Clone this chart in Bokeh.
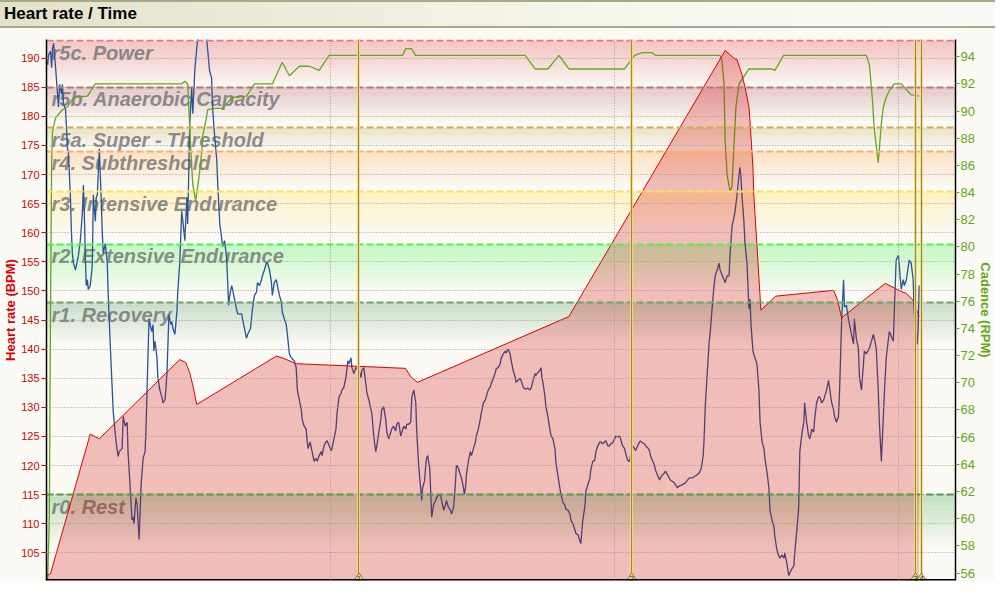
from bokeh.plotting import figure
from bokeh.models import Range1d, LinearAxis, SingleIntervalTicker, Div
from bokeh.layouts import column
from bokeh.embed import file_html
from bokeh.resources import INLINE
from bokeh.core.properties import value

# ---------------- data ----------------
zone_names = ["r0. Rest", "r1. Recovery", "r2. Extensive Endurance", "r3. Intensive Endurance",
              "r4. Subthreshold", "r5a. Super - Threshold", "r5b. Anaerobic Capacity", "r5c. Power"]
zone_low = [100, 115, 148, 158, 167, 174, 178, 185]
zone_high = [115, 148, 158, 167, 174, 178, 185, 193]

# heart rate (BPM) vs time (min)
hr_t = [0.0, 0.14, 1.54, 1.86, 4.69, 4.90, 5.04, 5.15, 5.29, 8.09, 8.30, 8.79, 12.64, 12.82, 13.06,
        18.39, 23.89, 24.20, 24.31, 24.48, 24.59, 24.73, 24.80, 24.87, 24.90, 25.15, 25.67, 27.71,
        27.85, 27.99, 29.53, 30.09, 30.26, 30.51, 30.72]
hr_v = [101.1, 101.4, 125.4, 124.6, 138.2, 137.7, 136.0, 133.8, 130.5, 138.8, 138.5, 137.5, 136.7,
        135.3, 134.3, 145.6, 191.3, 190.0, 189.7, 187.2, 185.0, 181.6, 176.6, 171.1, 166.5, 146.7,
        149.1, 150.1, 148.4, 145.4, 151.3, 149.9, 149.6, 148.4, 145.6]

# cadence (RPM) vs time (min)
cad_t = [0.04, 0.10, 0.14, 0.18, 0.21, 0.32, 0.56, 0.74, 0.95, 1.44, 1.72, 4.76, 4.87, 4.97, 5.04,
         5.11, 5.15, 5.25, 5.32, 5.39, 5.46, 5.50, 5.57, 5.64, 5.67, 5.92, 6.20, 6.34, 6.52, 7.04,
         7.32, 7.95, 8.30, 8.55, 8.90, 9.25, 9.60, 9.95, 12.54, 12.65, 12.85, 12.99, 16.85, 17.20,
         17.65, 18.04, 18.39, 20.35, 20.70, 20.98, 21.33, 21.44, 23.71, 23.78, 23.85, 23.89, 23.96,
         24.06, 24.13, 24.20, 24.27, 24.38, 24.73, 25.53, 25.64, 25.95, 28.86, 28.97, 29.07, 29.14,
         29.25, 29.28, 29.32, 29.39, 29.46, 29.56, 29.67, 29.84, 30.09, 30.20, 30.44, 30.72]
cad_v = [55.5, 60.0, 75.0, 86.0, 88.5, 89.5, 90.1, 90.3, 91.0, 91.1, 92.0, 92.0, 92.2, 92.0, 88.9,
         86.0, 84.6, 83.4, 84.4, 85.5, 86.9, 88.2, 88.9, 89.6, 90.1, 90.2, 90.2, 90.5, 91.0, 91.1,
         92.0, 92.0, 93.6, 92.6, 93.3, 93.3, 93.0, 94.1, 94.1, 94.6, 94.6, 94.1, 94.1, 93.1,
         93.1, 94.1, 93.1, 93.1, 94.1, 94.3, 94.3, 94.1, 94.1, 93.7, 92.0, 87.9, 85.3,
         84.1, 84.4, 87.4, 90.3, 92.0, 93.1, 93.1, 93.0, 94.1, 94.1, 93.4, 91.0, 88.7,
         86.7, 86.2, 87.2, 89.1, 90.3, 91.0, 91.5, 92.0, 92.0, 91.75, 91.2, 91.1]

# speed (km/h) vs time (min)
spd_t = [0.04, 0.07, 0.14, 0.18, 0.21, 0.25, 0.32, 0.39, 0.42, 0.46, 0.53, 0.56, 0.60, 0.67, 0.74,
         0.77, 0.84, 0.88, 0.91, 0.95, 1.02, 1.09, 1.12, 1.19, 1.26, 1.30, 1.33, 1.37, 1.40, 1.44,
         1.47, 1.54, 1.61, 1.65, 1.68, 1.72, 1.75, 1.79, 1.86, 1.89, 1.93, 1.96, 2.00, 2.07, 2.14,
         2.17, 2.24, 2.28, 2.35, 2.45, 2.52, 2.56, 2.66, 2.70, 2.77, 2.84, 2.87, 2.94, 3.01, 3.05,
         3.08, 3.15, 3.19, 3.26, 3.33, 3.40, 3.47, 3.50, 3.54, 3.57, 3.61, 3.68, 3.71, 3.75, 3.78,
         3.82, 3.89, 3.92, 3.99, 4.06, 4.10, 4.17, 4.20, 4.24, 4.31, 4.38, 4.41, 4.45, 4.52, 4.59,
         4.62, 4.69, 4.76, 4.80, 4.87, 4.94, 4.97, 5.04, 5.11, 5.15, 5.22, 5.29, 5.32, 5.39, 5.57,
         5.64, 5.67, 5.74, 5.81, 5.85, 5.92, 5.99, 6.03, 6.10, 6.16, 6.20, 6.27, 6.34, 6.38, 6.41,
         6.45, 6.52, 6.55, 6.62, 6.69, 6.73, 6.87, 6.90, 7.04, 7.08, 7.18, 7.25, 7.32, 7.39, 7.43,
         7.50, 7.57, 7.60, 7.67, 7.74, 7.78, 7.85, 7.92, 7.95, 8.02, 8.09, 8.13, 8.20, 8.27, 8.30,
         8.37, 8.44, 8.48, 8.55, 8.62, 8.72, 8.79, 8.83, 8.90, 8.97, 9.00, 9.07, 9.14, 9.18, 9.21,
         9.28, 9.35, 9.42, 9.49, 9.53, 9.60, 9.67, 9.70, 9.77, 9.84, 9.88, 9.95, 10.02, 10.05, 10.12,
         10.19, 10.23, 10.30, 10.37, 10.40, 10.47, 10.54, 10.58, 10.61, 10.65, 10.72, 10.75, 10.82,
         10.89, 10.93, 11.00, 11.07, 11.10, 11.17, 11.24, 11.28, 11.35, 11.42, 11.45, 11.52, 11.59,
         11.63, 11.70, 11.77, 11.80, 11.87, 11.94, 11.98, 12.05, 12.12, 12.15, 12.22, 12.29, 12.33,
         12.40, 12.47, 12.51, 12.58, 12.65, 12.68, 12.75, 12.82, 12.86, 12.93, 13.00, 13.03, 13.10,
         13.17, 13.21, 13.24, 13.31, 13.35, 13.38, 13.42, 13.49, 13.52, 13.56, 13.63, 13.70, 13.73,
         13.80, 13.87, 13.91, 13.98, 14.05, 14.08, 14.15, 14.22, 14.26, 14.33, 14.36, 14.40, 14.43,
         14.50, 14.57, 14.61, 14.68, 14.71, 14.75, 14.78, 14.85, 14.92, 14.96, 15.03, 15.10, 15.13,
         15.20, 15.27, 15.31, 15.38, 15.45, 15.48, 15.55, 15.62, 15.66, 15.73, 15.80, 15.83, 15.90,
         15.97, 16.01, 16.08, 16.15, 16.18, 16.25, 16.32, 16.36, 16.43, 16.50, 16.53, 16.60, 16.67,
         16.71, 16.78, 16.85, 16.95, 17.02, 17.06, 17.13, 17.20, 17.23, 17.30, 17.37, 17.41, 17.44,
         17.48, 17.55, 17.58, 17.65, 17.72, 17.76, 17.83, 17.90, 17.93, 18.00, 18.07, 18.11, 18.18,
         18.25, 18.29, 18.36, 18.43, 18.46, 18.53, 18.60, 18.64, 18.71, 18.78, 18.81, 18.85, 18.88,
         18.95, 18.99, 19.06, 19.13, 19.16, 19.23, 19.30, 19.34, 19.41, 19.48, 19.51, 19.58, 19.65,
         19.69, 19.76, 19.83, 19.86, 19.93, 20.00, 20.04, 20.11, 20.18, 20.21, 20.28, 20.35, 20.39,
         20.46, 20.53, 20.56, 20.63, 20.70, 20.74, 20.81, 20.88, 20.91, 20.98, 21.05, 21.09, 21.16,
         21.23, 21.26, 21.33, 21.40, 21.44, 21.51, 21.58, 21.61, 21.68, 21.75, 21.79, 21.96, 22.10,
         22.21, 22.28, 22.38, 22.49, 22.63, 22.73, 22.84, 22.98, 23.05, 23.12, 23.15, 23.19, 23.26,
         23.33, 23.36, 23.43, 23.50, 23.54, 23.61, 23.68, 23.71, 23.78, 23.85, 23.89, 23.96, 24.03,
         24.06, 24.13, 24.20, 24.24, 24.31, 24.38, 24.41, 24.45, 24.48, 24.55, 24.59, 24.66, 24.70,
         24.73, 24.77, 24.80, 24.87, 24.94, 25.01, 25.08, 25.12, 25.19, 25.26, 25.29, 25.36, 25.43,
         25.47, 25.54, 25.61, 25.64, 25.71, 25.78, 25.82, 25.89, 25.96, 25.99, 26.06, 26.13, 26.17,
         26.24, 26.31, 26.34, 26.41, 26.48, 26.52, 26.59, 26.66, 26.69, 26.76, 26.83, 26.87, 26.94,
         27.01, 27.04, 27.11, 27.18, 27.22, 27.29, 27.36, 27.39, 27.46, 27.53, 27.64, 27.71, 27.74,
         27.81, 27.88, 27.92, 27.99, 28.06, 28.09, 28.16, 28.23, 28.27, 28.41, 28.44, 28.51, 28.58,
         28.62, 28.69, 28.76, 28.79, 28.86, 28.97, 29.11, 29.14, 29.21, 29.28, 29.32, 29.39, 29.46,
         29.49, 29.56, 29.67, 29.81, 29.91, 29.99, 30.09, 30.16, 30.20, 30.27, 30.37, 30.44, 30.51,
         30.54, 30.61, 30.65, 30.68, 30.72]
spd_v = [52.8, 53.8, 54.2, 52.5, 54.5, 55.0, 52.5, 49.8, 48.5, 50.8, 49.8, 50.8, 48.8, 48.2, 44.2,
         43.8, 39.5, 35.5, 33.5, 32.5, 31.8, 32.8, 33.2, 34.8, 37.5, 40.5, 37.8, 32.8, 30.2, 30.8,
         29.8, 30.2, 32.2, 39.5, 38.2, 36.8, 39.2, 39.5, 44.2, 41.8, 38.8, 35.8, 33.5, 34.5, 32.5,
         29.5, 24.5, 21.8, 17.2, 14.2, 12.7, 13.2, 13.5, 16.8, 15.8, 16.2, 13.2, 9.8, 6.2, 6.5,
         5.8, 8.5, 7.8, 4.2, 9.8, 12.5, 13.2, 15.2, 19.5, 22.8, 26.8, 25.8, 25.5, 26.2, 23.5,
         24.5, 22.8, 20.8, 19.5, 18.8, 18.2, 18.5, 19.5, 21.2, 27.2, 26.2, 26.5, 25.8, 25.2, 27.5,
         29.5, 32.5, 37.8, 36.8, 34.8, 39.2, 36.5, 46.5, 50.5, 47.8, 52.2, 54.5, 55.4, 57.0, 57.0,
         55.4, 54.5, 52.2, 51.5, 48.2, 45.5, 43.2, 40.5, 36.5, 35.2, 34.2, 34.8, 33.0, 30.5, 28.2,
         29.2, 30.2, 29.8, 28.8, 27.8, 27.3, 27.3, 26.8, 24.8, 25.2, 25.8, 27.8, 29.2, 29.5, 30.5,
         30.2, 30.8, 31.2, 31.8, 32.5, 32.5, 31.8, 30.5, 29.2, 30.5, 30.8, 30.2, 29.2, 28.5, 27.5,
         26.8, 26.2, 25.2, 23.2, 22.8, 22.5, 21.8, 19.5, 18.5, 17.5, 16.5, 15.8, 15.5, 14.2, 13.5,
         14.2, 13.2, 12.2, 12.5, 12.2, 12.8, 13.2, 12.8, 13.8, 14.2, 14.3, 13.8, 13.3, 13.5, 14.5,
         15.5, 17.2, 18.8, 19.2, 19.5, 19.8, 20.8, 21.8, 22.5, 22.2, 22.8, 21.8, 21.2,
         21.8, 21.7, 21.5, 20.8, 21.5, 21.8, 20.2, 19.2, 18.5, 17.5, 17.2, 14.8, 13.2,
         13.8, 15.2, 16.5, 17.5, 17.8, 16.5, 15.2, 14.5, 15.2, 15.5, 15.8, 15.3, 16.0,
         16.2, 14.8, 15.2, 15.8, 15.5, 16.0, 16.0, 16.2, 18.8, 19.5, 18.2, 15.5, 11.8,
         9.5, 8.2, 9.5, 10.2, 11.8, 12.5, 12.8, 11.5, 9.5, 6.5, 7.8, 8.2, 8.5,
         8.7, 8.8, 8.2, 7.2, 7.8, 8.2, 7.5, 7.2, 6.8, 7.5, 8.5, 10.2, 11.8,
         11.5, 10.8, 10.5, 9.5, 8.8, 9.5, 10.8, 12.2, 13.2, 12.8, 13.5, 14.2, 14.8,
         15.5, 16.5, 17.2, 18.2, 18.5, 18.8, 19.5, 19.8, 20.2, 20.7, 21.3, 21.7, 21.8,
         22.2, 22.8, 23.2, 23.5, 23.3, 23.7, 23.2, 22.5, 21.5, 20.8, 20.3, 20.5, 20.7,
         20.5, 19.8, 19.6, 19.7, 19.5, 19.7, 20.5, 21.2, 21.0, 21.3, 21.5, 21.8, 20.8,
         20.2, 18.8, 17.8, 16.8, 15.5, 14.8, 14.5, 13.5, 12.2, 10.8, 9.5, 8.8, 8.0,
         7.7, 7.3, 7.2, 6.8, 6.2, 5.8, 5.2, 4.8, 4.7, 4.0, 3.8, 5.2, 6.2,
         7.5, 9.2, 9.8, 10.5, 11.3, 12.2, 12.3, 13.2, 13.8, 14.2, 14.2, 14.0, 14.2,
         14.3, 13.8, 13.8, 14.0, 14.1, 14.5, 14.8, 14.7, 14.8, 14.5, 13.8, 13.5, 13.0,
         12.3, 12.2, 12.7, 13.8, 13.5, 13.3, 13.8, 14.2, 14.3, 14.1, 14.0, 13.8, 13.6,
         13.3, 12.8, 12.3, 11.8, 11.3, 10.8, 10.3, 10.5, 10.8, 11.0, 11.2, 10.3, 10.0,
         9.5, 9.7, 9.8, 10.0, 10.5, 10.5, 10.7, 11.0, 11.5, 12.8, 14.5, 17.8, 21.2,
         24.5, 25.2, 27.8, 30.2, 31.2, 31.8, 32.5, 31.8, 31.3, 30.8, 30.5, 31.2, 31.2,
         33.2, 36.2, 37.2, 37.8, 39.5, 41.5, 42.3, 41.2, 39.5, 36.8, 34.5, 32.5, 29.8,
         27.8, 28.8, 26.2, 23.5, 22.8, 22.2, 19.5, 16.2, 14.2, 13.5, 12.5, 11.2, 9.5,
         7.2, 6.2, 5.5, 4.5, 3.2, 2.5, 2.3, 2.6, 2.3, 2.8, 1.8, 0.5, 0.8,
         1.2, 1.5, 2.8, 5.0, 7.5, 13.2, 15.0, 16.2, 18.2, 16.2, 14.8, 14.5, 15.5,
         15.2, 16.5, 18.2, 18.8, 18.8, 18.2, 18.5, 18.8, 19.5, 20.5, 18.2, 17.5, 16.8,
         16.2, 16.8, 19.5, 26.5, 30.8, 28.0, 28.2, 26.8, 26.2, 24.2, 26.8, 24.8, 23.8,
         20.8, 19.5, 22.2, 23.5, 23.2, 23.8, 25.2, 24.8, 23.8, 19.5, 16.2, 12.2, 16.8,
         18.8, 22.8, 25.5, 24.5, 32.8, 33.3, 29.8, 30.8, 30.2, 30.8, 32.8, 32.5, 30.8,
         27.8, 24.8, 24.2, 25.5, 30.2]

lap_times = [11.0, 20.6, 30.59, 30.80]
lap_labels = ["1", "2", "3", "4"]

# ---------------- styling tables ----------------
band_colors = ["#BEDEBE", "#C4DAC4", "#BEF8BE", "#FEF0BE", "#FCDEBE", "#E8DEC0", "#E2C4C4", "#F2BDBD"]
band_fade = [9, 7, 8, 7, 6, 3.5, 6, 8]
line_colors = ["#4A9A40", "#68A868", "#55EE55", "#FFE050", "#FFB060", "#D4AA50", "#C07070", "#E08080"]

BG = "#FBFAF4"
HR_RED = "#E00000"
CAD_GREEN = "#62A81C"

x_range = Range1d(0, 32.0)
y_range = Range1d(100.25, 193.2)

p = figure(width=995, height=553, x_range=x_range, y_range=y_range,
           output_backend="svg", toolbar_location=None,
           min_border_top=11, min_border_bottom=1, min_border_left=0, min_border_right=0,
           background_fill_color=BG, border_fill_color=BG, outline_line_color=None)
p.extra_y_ranges = {"cad": Range1d(55.45, 95.27), "spd": Range1d(0, 55.4)}

# left axis
la = p.yaxis[0]
la.ticker = SingleIntervalTicker(interval=5)
la.axis_label = "Heart rate (BPM)"
la.axis_label_text_color = HR_RED
la.axis_label_text_font = "Liberation Sans"
la.axis_label_text_font_style = "bold"
la.axis_label_text_font_size = "13px"
la.axis_label_standoff = 0
la.major_label_text_color = HR_RED
la.major_label_text_font = "Liberation Sans"
la.major_label_text_font_size = "11px"
la.major_label_standoff = 2
la.major_tick_line_color = HR_RED
la.major_tick_out = 5
la.major_tick_in = 0
la.minor_tick_line_color = None
la.axis_line_color = "black"
la.axis_line_width = 1.5

# bottom axis: its labels are cut off in the reference, only the line shows
p.xaxis.visible = False
p.xgrid[0].ticker = SingleIntervalTicker(interval=10)

# right axis: cadence
ca = LinearAxis(y_range_name="cad", ticker=SingleIntervalTicker(interval=2),
                axis_label="Cadence (RPM)")
ca.axis_label_text_color = CAD_GREEN
ca.axis_label_text_font = "Liberation Sans"
ca.axis_label_text_font_style = "bold"
ca.axis_label_text_font_size = "13px"
ca.axis_label_standoff = 0
ca.major_label_text_color = CAD_GREEN
ca.major_label_text_font = "Liberation Sans"
ca.major_label_text_font_size = "13px"
ca.major_label_standoff = 1
ca.major_tick_line_color = CAD_GREEN
ca.major_tick_out = 4
ca.major_tick_in = 0
ca.minor_tick_line_color = None
ca.axis_line_color = "black"
ca.axis_line_width = 1.5
p.add_layout(ca, "right")

# grid
p.xgrid.grid_line_color = "#958F86"
p.ygrid.grid_line_color = "#958F86"
p.grid.grid_line_dash = "1 2"
p.grid.grid_line_width = 1
p.grid.grid_line_alpha = 0.9
p.grid.level = "annotation"

# ---------------- zone bands (gradient strips) ----------------
N = 24
b_top, b_bot, b_col, b_alp = [], [], [], []
for lo, hi, col, fd in zip(zone_low, zone_high, band_colors, band_fade):
    for k in range(N):
        top = hi - fd * k / N
        if top <= lo:
            break
        bot = max(lo, hi - fd * (k + 1) / N)
        b_top.append(top)
        b_bot.append(bot)
        b_col.append(col)
        b_alp.append(1 - (k + 0.5) / N)
p.quad(left=x_range.start, right=x_range.end, top=b_top, bottom=b_bot,
       fill_color=b_col, fill_alpha=b_alp, line_color=None)

# zone labels
p.text(x=[x_range.start] * len(zone_names), y=zone_high, text=zone_names,
       text_font=value("Liberation Sans"), text_font_style="bold italic",
       text_font_size="20px", text_color="#707070", text_alpha=0.8,
       text_baseline="top", text_align="left", x_offset=5, y_offset=1)

# speed line
p.line(spd_t, spd_v, y_range_name="spd", line_color="#2A529A", line_width=1.3)

# cadence line
p.line(cad_t, cad_v, y_range_name="cad", line_color=CAD_GREEN, line_width=1.3)

# heart rate area + line
p.varea(x=hr_t, y1=y_range.start, y2=hr_v, fill_color="#D00000", fill_alpha=0.245)
p.line(hr_t, hr_v, line_color=HR_RED, line_width=1)

# zone boundary lines
p.hspan(y=zone_high, line_color=line_colors, line_width=2, line_dash="7 3")

# lap markers
p.vspan(x=lap_times, line_color="#F3D878", line_width=3, line_alpha=0.9)
p.vspan(x=lap_times, line_color="#9C8A3C", line_width=1)
p.scatter(x=lap_times, y=[y_range.start] * len(lap_times), marker="diamond", size=15,
          fill_color="#F6E27A", line_color="#8A7030", line_width=1)
p.text(x=lap_times, y=[y_range.start] * len(lap_times), text=lap_labels,
       text_font=value("Liberation Sans"), text_font_size="8px", text_color="#333333",
       text_align="center", text_baseline="bottom", y_offset=0)

# bottom frame line (x axis line)
p.hspan(y=[y_range.start], line_color="black", line_width=3)

header = Div(text="Heart rate / Time", width=995, height=28, margin=(0, 0, 0, 0),
             styles={"background": "linear-gradient(to right, #E3E1C8 0%, #EFEEDD 35%, #F9F8F0 70%, #FBFAF4 100%)",
                     "border-top": "2px solid #A6AA86",
                     "border-bottom": "2px solid #A6AA86",
                     "box-sizing": "border-box",
                     "font-family": "'Liberation Sans', Arial, sans-serif",
                     "font-weight": "bold", "font-size": "17px", "color": "#000000",
                     "padding-left": "4px", "line-height": "24px"})

layout = column(header, p, spacing=0)
open("out.html", "w").write(file_html(layout, INLINE))
